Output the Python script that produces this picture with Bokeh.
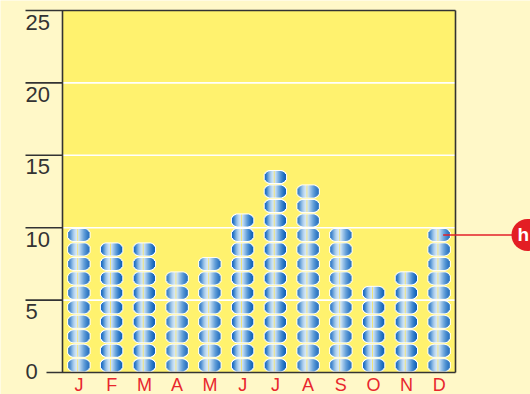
import numpy as np
from bokeh.plotting import figure
from bokeh.models import Range1d, ColumnDataSource
from bokeh.core.properties import value
from bokeh.embed import file_html
from bokeh.resources import INLINE

# ---- data ----
months = ["J", "F", "M", "A", "M", "J", "J", "A", "S", "O", "N", "D"]
values = [10, 9, 9, 7, 8, 11, 14, 13, 10, 6, 7, 10]
y_ticks = [0, 5, 10, 15, 20, 25]
tick_labels = ["0", "5", "10", "15", "20", "25"]
grid_values = [5, 10, 15, 20]
callout_index = 11
callout_label = "h"

# ---- layout (canvas pixels) ----
W, H = 530, 394
FL, FR, FT, FB = 62, 455, 10, 372          # plot frame edges
NX, NY = len(months), 25
sx = (FR - FL) / NX                        # px per category
sy = (FB - FT) / NY                        # px per unit

def px(xp):
    return (xp - FL) / sx

x_start, x_end = -FL / sx, (W - FL) / sx
y_start, y_end = -(H - FB) / sy, NY + FT / sy

p = figure(width=W, height=H, output_backend="svg", toolbar_location=None,
           x_range=Range1d(x_start, x_end), y_range=Range1d(y_start, y_end),
           x_axis_type=None, y_axis_type=None, min_border=0,
           background_fill_color="#FFF8C8", border_fill_color="#FFF8C8",
           outline_line_color=None)
p.grid.visible = False

# plot area
p.quad(left=0, right=NX, bottom=0, top=NY, fill_color="#FFF26E", line_color=None)

# white grid lines
p.segment(x0=[0] * len(grid_values), x1=[NX] * len(grid_values),
          y0=grid_values, y1=grid_values, line_color="white", line_width=1.6)

# pills made of vertical strips
colors = ["#2070c2", "#2f7ac8", "#4a8cd1", "#68a2db", "#86b6e4", "#a0c7eb",
          "#b5d4f0", "#c7dff4", "#d2e6f7", "#efe27c", "#c9e0f5", "#b3d3ef",
          "#9cc4ea", "#86b6e4", "#70a8de", "#5b9ad8", "#488dd2", "#3881cc",
          "#2a77c6", "#1e6dc0", "#1565b9"]

def stadium(a, r, n):
    offs = np.arange(n) - (n - 1) / 2
    hs = []
    for d in offs:
        e = abs(d) - (a - r)
        hs.append(2 * r if e <= 0 else 2 * np.sqrt(max(r * r - e * e, 0.5)))
    return offs, hs

w_off, w_h = stadium(11.8, 7.0, 23)
c_off, c_h = stadium(10.8, 6.0, 21)

wx, wy, ww, wh = [], [], [], []
cx, cy, cw, ch, cc = [], [], [], [], []
for i, v in enumerate(values):
    for k in range(v):
        xc, yc = i + 0.5, k + 0.5
        for d, h in zip(w_off, w_h):
            wx.append(xc + d / sx); wy.append(yc); ww.append(1.4 / sx); wh.append(h / sy)
        for j, (d, h) in enumerate(zip(c_off, c_h)):
            cx.append(xc + d / sx); cy.append(yc); cw.append(1.3 / sx); ch.append(h / sy)
            cc.append(colors[j])

p.rect(x=wx, y=wy, width=ww, height=wh, fill_color="white", line_color=None)
p.rect(source=ColumnDataSource(dict(x=cx, y=cy, w=cw, h=ch, c=cc)),
       x="x", y="y", width="w", height="h", fill_color="c", line_color=None)

# frame lines
dark = "#333333"
p.segment(x0=[0, px(25), NX, px(46)], x1=[0, NX, NX, NX],
          y0=[0, NY, 0, 0], y1=[NY, NY, NY, 0], line_color=dark, line_width=1.6)

# tick lines (long, extending left)
tt = [t for t in y_ticks if t not in (0, NY)]
p.segment(x0=[px(25)] * len(tt), x1=[0] * len(tt), y0=tt, y1=tt,
          line_color=dark, line_width=1.6)

# tick labels
lab_x = px(25)
p.text(x=[lab_x] * (len(y_ticks) - 1), y=y_ticks[1:], text=tick_labels[1:],
       text_font=value("Liberation Sans"), text_font_size="22px",
       text_color="#333333", text_align="left", text_baseline="top", y_offset=4)
p.text(x=[lab_x], y=[0], text=[tick_labels[0]],
       text_font=value("Liberation Sans"), text_font_size="22px",
       text_color="#333333", text_align="left", text_baseline="middle", y_offset=-1)

# month labels
p.text(x=[i + 0.5 for i in range(NX)], y=[0] * NX, text=months,
       text_font=value("Liberation Sans"), text_font_size="18px",
       text_color="#E8262D", text_align="center", text_baseline="top", y_offset=2)

# callout
cy0 = values[callout_index] - 0.5
p.segment(x0=[callout_index + 0.5 + 4 / sx], x1=[px(512)],
          y0=[cy0], y1=[cy0], line_color="#E3202A", line_width=1.6)
p.scatter(x=[px(527)], y=[cy0], size=32, marker="circle",
          fill_color="#E31E24", line_color=None)
p.text(x=[px(517)], y=[cy0], text=[callout_label],
       text_font=value("Liberation Sans"), text_font_style="bold",
       text_font_size="19px", text_color="white",
       text_align="left", text_baseline="middle")

open("out.html", "w").write(file_html(p, INLINE))
